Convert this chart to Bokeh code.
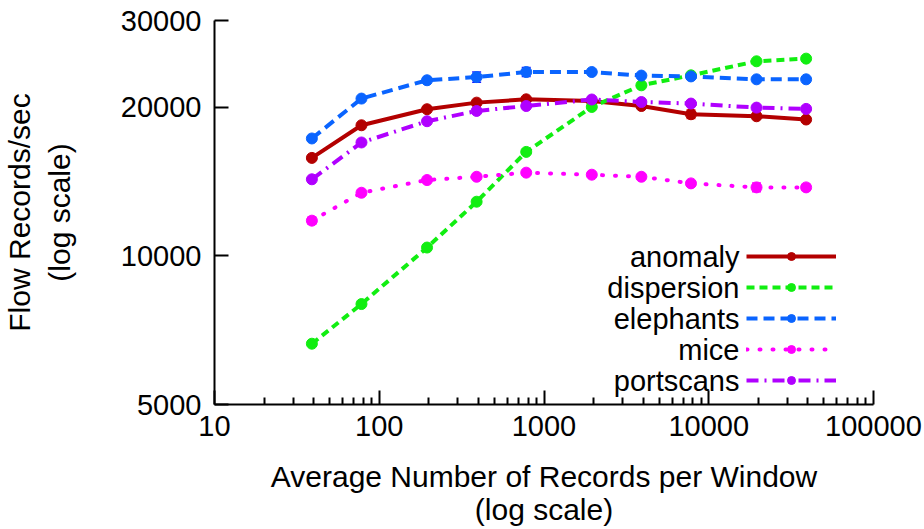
from bokeh.plotting import figure
from bokeh.models import (Range1d, FixedTicker, NumeralTickFormatter, Legend, LegendItem,
                          Label, Whisker, ColumnDataSource, TeeHead)
from bokeh.core.properties import value
from bokeh.embed import file_html
from bokeh.resources import INLINE

# ---- data ----
records = [39, 78, 195, 390, 780, 1950, 3900, 7800, 19500, 39000]
anomaly = [15800, 18400, 19830, 20450, 20770, 20600, 20130, 19370, 19190, 18900]
dispersion = [6640, 7990, 10400, 12880, 16250, 20040, 22170, 23230, 24800, 25110]
elephants = [17300, 20840, 22700, 23040, 23590, 23590, 23200, 23110, 22800, 22800]
mice = [11790, 13430, 14250, 14470, 14750, 14610, 14470, 14030, 13770, 13770]
portscans = [14300, 16980, 18750, 19670, 20130, 20750, 20510, 20360, 19980, 19860]

anomaly_err = [0, 0, 0, 0, 0, 0, 0, 380, 0, 0]
dispersion_err = [0, 0, 0, 0, 0, 0, 0, 0, 0, 0]
elephants_err = [0, 0, 0, 550, 500, 0, 0, 0, 0, 0]
mice_err = [200, 0, 0, 0, 0, 0, 150, 0, 280, 200]
portscans_err = [0, 0, 0, 0, 0, 0, 0, 0, 0, 0]

x_ticks = [10, 100, 1000, 10000, 100000]
y_ticks = [5000, 10000, 20000, 30000]
x_title = "Average Number of Records per Window\n(log scale)"
y_title = "Flow Records/sec\n(log scale)"

FONT = "Liberation Sans"
FS = "29px"
TFS = "30px"

p = figure(width=924, height=529, x_axis_type="log", y_axis_type="log",
           x_range=Range1d(10, 100000), y_range=Range1d(5000, 30000),
           output_backend="svg", toolbar_location=None,
           min_border_left=213, min_border_right=51, min_border_top=20, min_border_bottom=124)
p.outline_line_color = None
p.grid.visible = False
p.background_fill_color = "white"
p.border_fill_color = "white"

minor = [m * d for d in x_ticks[:-1] for m in range(2, 10)]
p.xaxis.ticker = FixedTicker(ticks=x_ticks, minor_ticks=minor)
p.yaxis.ticker = FixedTicker(ticks=y_ticks, minor_ticks=[])
for ax in (p.xaxis, p.yaxis):
    ax.formatter = NumeralTickFormatter(format="0")
    ax.axis_line_width = 2
    ax.axis_line_color = "black"
    ax.major_tick_line_width = 2
    ax.minor_tick_line_width = 2
    ax.major_tick_line_color = "black"
    ax.minor_tick_line_color = "black"
    ax.major_tick_in = 14
    ax.major_tick_out = 0
    ax.minor_tick_in = 7
    ax.minor_tick_out = 0
    ax.major_label_text_font = FONT
    ax.major_label_text_font_size = FS
    ax.major_label_text_color = "black"
    ax.axis_label_text_font = FONT
    ax.axis_label_text_font_size = TFS
    ax.axis_label_text_font_style = "normal"
    ax.axis_label_text_color = "black"
p.yaxis.minor_tick_line_color = None
p.xaxis.major_label_standoff = 11
p.yaxis.major_label_standoff = 13
p.xaxis.axis_label = x_title
p.xaxis.axis_label_standoff = 21
p.xaxis.axis_label_text_line_height = 1.03
p.yaxis.axis_label = y_title
p.yaxis.axis_label_standoff = 42
p.yaxis.axis_label_text_line_height = 1.2

series = [
    ("anomaly", anomaly, anomaly_err, "#b30000", "#ff1a1a", "solid", "butt"),
    ("dispersion", dispersion, dispersion_err, "#11ee11", "#11ee11", "8 5", "butt"),
    ("elephants", elephants, elephants_err, "#0a64ff", "#1e1eff", "11 6", "butt"),
    ("mice", mice, mice_err, "#ff00ff", "#ff00ff", "1 12", "round"),
    ("portscans", portscans, portscans_err, "#b000ff", "#b000ff", "12 6 2 6", "butt"),
]

items = []
for name, vals, err, color, ecolor, dash, cap in series:
    src = ColumnDataSource(dict(x=records, y=vals))
    lr = p.line("x", "y", source=src, line_color=color, line_width=4,
                line_dash=dash, line_cap=cap)
    sr = p.scatter("x", "y", source=src, size=11, fill_color=color, line_color=color)
    idx = [i for i, e in enumerate(err) if e > 0]
    if idx:
        esrc = ColumnDataSource(dict(x=[records[i] for i in idx],
                                     lo=[vals[i] - err[i] for i in idx],
                                     hi=[vals[i] + err[i] for i in idx]))
        w = Whisker(source=esrc, base="x", lower="lo", upper="hi", dimension="height",
                    line_color=ecolor, line_width=1.5,
                    upper_head=TeeHead(size=9, line_color=ecolor, line_width=1.5),
                    lower_head=TeeHead(size=9, line_color=ecolor, line_width=1.5))
        p.add_layout(w)
    items.append((name, LegendItem(label=value(""), renderers=[lr, sr])))

# legend: samples via Bokeh Legend, names right-aligned to their left (gnuplot style)
LEG_X, LEG_Y, GH, SP = 532, 14, 20, 11
legend = Legend(items=[it for _, it in items], location=(LEG_X, LEG_Y),
                glyph_width=90, glyph_height=GH, label_width=0, label_height=GH,
                label_standoff=0, spacing=SP, padding=0, margin=0,
                border_line_alpha=0, background_fill_alpha=0,
                label_text_font_size="1px")
p.add_layout(legend)
n = len(items)
for i, (name, _) in enumerate(items):
    yc = LEG_Y + (n - 1 - i) * (GH + SP) + GH / 2
    p.add_layout(Label(x=LEG_X - 7, y=yc, x_units="screen", y_units="screen", text=name,
                       text_align="right", text_baseline="middle",
                       text_font=FONT, text_font_size=FS, text_color="black"))

open("out.html", "w").write(file_html(p, INLINE))
